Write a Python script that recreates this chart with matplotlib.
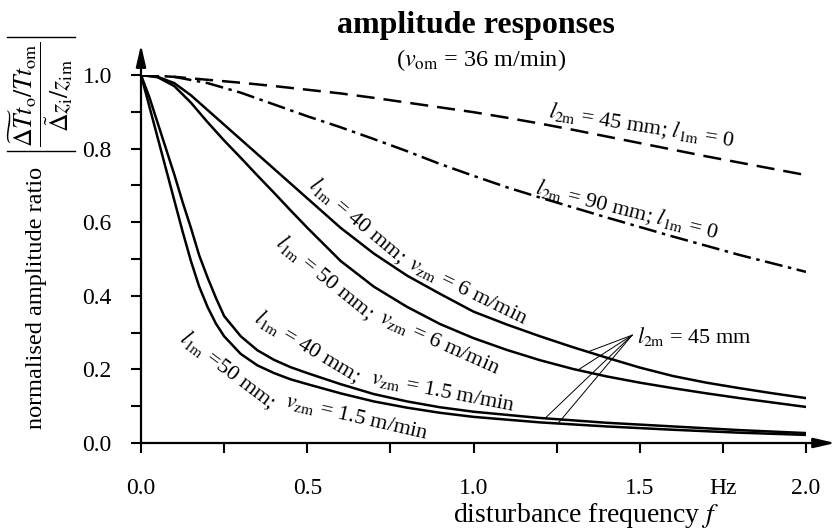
import numpy as np
import matplotlib
matplotlib.use("Agg")
import matplotlib.pyplot as plt
from matplotlib.lines import Line2D

plt.rcParams['font.family'] = ['Liberation Serif', 'DejaVu Serif']
plt.rcParams['mathtext.fontset'] = 'stix'
plt.rcParams['lines.scale_dashes'] = False

# values
f_a = [0, 0.1, 0.2, 0.3, 0.4, 0.5, 0.6, 0.7, 0.8, 0.9, 1.0,
       1.1, 1.2, 1.3, 1.4, 1.5, 1.6, 1.7, 1.8, 1.9, 2.0]
amp_45_l0 = [1.0, 0.995, 0.987, 0.979, 0.970, 0.960, 0.950, 0.938, 0.925, 0.912, 0.899,
             0.884, 0.868, 0.851, 0.833, 0.815, 0.797, 0.779, 0.762, 0.745, 0.728]
amp_90_l0 = [1.0, 0.995, 0.978, 0.952, 0.920, 0.888, 0.858, 0.826, 0.793, 0.758, 0.726,
             0.695, 0.667, 0.640, 0.613, 0.587, 0.561, 0.536, 0.511, 0.488, 0.465]

f_b = [0, 0.05, 0.1, 0.15, 0.2, 0.25, 0.3, 0.35, 0.4, 0.45, 0.5, 0.6, 0.7, 0.8, 0.9, 1.0,
       1.1, 1.2, 1.3, 1.4, 1.5, 1.6, 1.7, 1.8, 1.9, 2.0]
amp_40_v6 = [1.0, 0.995, 0.978, 0.945, 0.905, 0.865, 0.825, 0.785, 0.745, 0.705, 0.665,
             0.585, 0.515, 0.455, 0.405, 0.357, 0.322, 0.290, 0.260, 0.232, 0.205,
             0.182, 0.164, 0.149, 0.135, 0.122]
amp_50_v6 = [1.0, 0.994, 0.970, 0.925, 0.872, 0.822, 0.775, 0.727, 0.680, 0.632, 0.585,
             0.495, 0.425, 0.370, 0.323, 0.285, 0.253, 0.225, 0.201, 0.181, 0.164,
             0.149, 0.135, 0.122, 0.110, 0.098]

f_c = [0, 0.025, 0.05, 0.075, 0.1, 0.125, 0.15, 0.175, 0.2, 0.225, 0.25, 0.3, 0.35, 0.4,
       0.45, 0.5, 0.6, 0.7, 0.8, 0.9, 1.0, 1.2, 1.4, 1.6, 1.8, 2.0]
amp_40_v15 = [1.0, 0.94, 0.87, 0.80, 0.73, 0.655, 0.585, 0.51, 0.45, 0.395, 0.345, 0.29,
              0.252, 0.226, 0.206, 0.19, 0.16, 0.133, 0.113, 0.097, 0.085, 0.068, 0.055,
              0.045, 0.035, 0.027]
amp_50_v15 = [1.0, 0.915, 0.83, 0.745, 0.66, 0.575, 0.495, 0.425, 0.37, 0.325, 0.29, 0.242,
              0.211, 0.19, 0.173, 0.16, 0.135, 0.113, 0.096, 0.082, 0.071, 0.056, 0.045,
              0.036, 0.028, 0.022]

xticks = [0, 0.25, 0.5, 0.75, 1.0, 1.25, 1.5, 1.75, 2.0]
xticklabels = ['0.0', '', '0.5', '', '1.0', '', '1.5', 'Hz', '2.0']
yticks = [0, 0.1, 0.2, 0.3, 0.4, 0.5, 0.6, 0.7, 0.8, 0.9, 1.0]
yticklabels = ['0.0', '', '0.2', '', '0.4', '', '0.6', '', '0.8', '', '1.0']

W, H = 839, 529
fig = plt.figure(figsize=(W / 100, H / 100), dpi=100)
ax = fig.add_axes([141 / W, 86 / H, 665 / W, 368 / H])

lw = 1.8
ax.plot(f_a, amp_45_l0, color='black', lw=lw, linestyle=(0, (13, 6.5)))
ax.plot(f_a, amp_90_l0, color='black', lw=lw, linestyle=(0, (13, 4, 2.5, 4)))
ax.plot(f_b, amp_40_v6, color='black', lw=lw)
ax.plot(f_b, amp_50_v6, color='black', lw=lw)
ax.plot(f_c, amp_40_v15, color='black', lw=lw)
ax.plot(f_c, amp_50_v15, color='black', lw=lw)

ax.set_xlim(0, 2.0)
ax.set_ylim(0, 1.0)
for s in ax.spines.values():
    s.set_visible(False)
ax.set_xticks(xticks)
ax.set_xticklabels(xticklabels)
ax.set_yticks(yticks)
ax.set_yticklabels(yticklabels)
ax.tick_params(axis='x', direction='out', length=7, width=1.5, labelsize=17, pad=18)
ax.tick_params(axis='y', direction='out', length=7, width=1.5, labelsize=17, pad=14)

# axes with arrow heads
arrow = dict(arrowstyle='-|>,head_length=1.3,head_width=0.3', lw=1.6,
             color='black', shrinkA=0, shrinkB=0, mutation_scale=10)
ax.annotate('', xy=(1.044, 0), xytext=(0, 0), xycoords='axes fraction',
            textcoords='axes fraction', arrowprops=arrow, annotation_clip=False)
ax.annotate('', xy=(0, 1.082), xytext=(0, 0), xycoords='axes fraction',
            textcoords='axes fraction', arrowprops=arrow, annotation_clip=False)

fs = 16
kw = dict(fontsize=fs, ha='center', va='center', rotation_mode='anchor')
ax.text(1.507, 0.861, r'$l_{\mathrm{2m}}$ = 45 mm; $l_{\mathrm{1m}}$ = 0', rotation=-9, **kw)
ax.text(1.462, 0.633, r'$l_{\mathrm{2m}}$ = 90 mm; $l_{\mathrm{1m}}$ = 0', rotation=-14, **kw)
ax.text(0.650, 0.605, r'$l_{\mathrm{1m}}$ = 40 mm;', rotation=-40, **kw)
ax.text(0.985, 0.412, r'$v_{\mathrm{zm}}$ = 6 m/min', rotation=-26, **kw)
ax.text(0.553, 0.451, r'$l_{\mathrm{1m}}$ = 50 mm;', rotation=-39, **kw)
ax.text(0.899, 0.272, r'$v_{\mathrm{zm}}$ = 6 m/min', rotation=-24, **kw)
ax.text(0.499, 0.261, r'$l_{\mathrm{1m}}$ = 40 mm;', rotation=-31, **kw)
ax.text(0.908, 0.139, r'$v_{\mathrm{zm}}$ = 1.5 m/min', rotation=-11, **kw)
ax.text(0.262, 0.198, r'$l_{\mathrm{1m}}$ =50 mm;', rotation=-37, **kw)
ax.text(0.650, 0.071, r'$v_{\mathrm{zm}}$ = 1.5 m/min', rotation=-13, **kw)

# leader lines to the four solid curves
apex = (1.477, 0.293)
ax.text(1.492, 0.29, r'$l_{\mathrm{2m}}$ = 45 mm', fontsize=fs, ha='left', va='center')
for fx, xs, ys in [(1.344, f_b, amp_40_v6), (1.314, f_b, amp_50_v6),
                   (1.215, f_c, amp_40_v15), (1.254, f_c, amp_50_v15)]:
    ax.plot([apex[0], fx], [apex[1], np.interp(fx, xs, ys)], color='black', lw=0.7)

fig.text(476 / W, 1 - 26 / H, 'amplitude responses', fontsize=23, fontweight='bold',
         ha='center', va='center')
fig.text(481 / W, 1 - 60 / H, r'($v_{\mathrm{om}}$ = 36 m/min)', fontsize=17.5,
         ha='center', va='center')
fig.text(586 / W, 1 - 515 / H, r'disturbance frequency $f$', fontsize=20,
         ha='center', va='center')
fig.text(37 / W, 1 - 298 / H, 'normalised amplitude ratio', fontsize=17.5,
         rotation=90, ha='center', va='center')
fig.text(41 / W, 1 - 94 / H,
         r'$\dfrac{\widetilde{\mathit{\Delta} T}t_{\mathrm{o}}/Tt_{\mathrm{om}}}'
         r'{\tilde{\mathit{\Delta}}z_{\mathrm{i}}/z_{\mathrm{im}}}$',
         fontsize=18.5, rotation=90, ha='center', va='center')
# absolute value bars of the rotated fraction
for yb in (37, 151):
    fig.add_artist(Line2D([7 / W, 75 / W], [1 - yb / H, 1 - yb / H],
                          color='black', lw=1.0, transform=fig.transFigure))

fig.savefig('out.png', dpi=100)
